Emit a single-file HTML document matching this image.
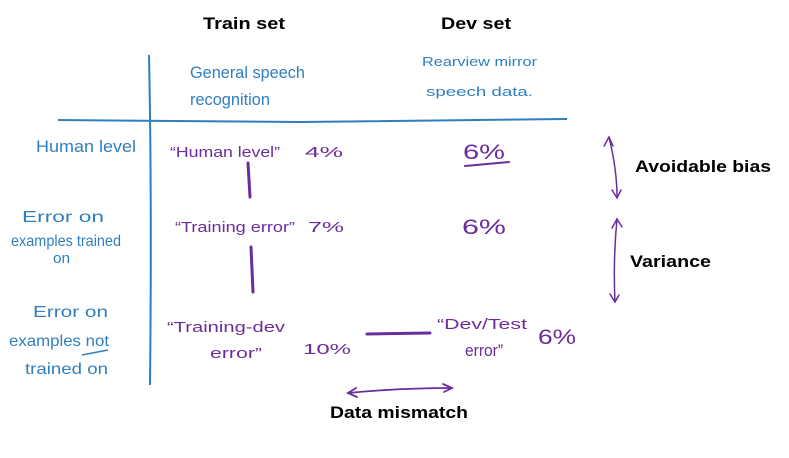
<!DOCTYPE html>
<html><head><meta charset="utf-8"><style>
html,body{margin:0;padding:0;background:#fff;}
svg{display:block;}
.b{font-family:"Liberation Sans",sans-serif;font-weight:bold;font-size:17px;fill:#000;}
.h{font-family:"Liberation Sans",sans-serif;font-size:15px;}
.bl{fill:#2f7fc0;}
.pu{fill:#6b2c9c;}
</style></head><body>
<svg width="789" height="458" viewBox="0 0 789 458" xmlns="http://www.w3.org/2000/svg">
<text class="b" x="203" y="29" textLength="82" lengthAdjust="spacingAndGlyphs">Train set</text>
<text class="b" x="441" y="29" textLength="70" lengthAdjust="spacingAndGlyphs">Dev set</text>
<text class="b" x="635" y="172" textLength="136" lengthAdjust="spacingAndGlyphs">Avoidable bias</text>
<text class="b" x="630" y="267" textLength="81" lengthAdjust="spacingAndGlyphs">Variance</text>
<text class="b" x="330" y="418" textLength="138" lengthAdjust="spacingAndGlyphs">Data mismatch</text>

<path d="M149 55 Q152 200 150 385" stroke="#2f7fc0" stroke-width="2" fill="none"/>
<path d="M58 120 L300 122 L567 119" stroke="#2f7fc0" stroke-width="2" fill="none"/>

<g class="h bl">
<text x="190" y="78" textLength="115" lengthAdjust="spacingAndGlyphs" font-size="17">General speech</text>
<text x="190" y="105" textLength="80" lengthAdjust="spacingAndGlyphs" font-size="17">recognition</text>
<text x="422" y="66" textLength="115" lengthAdjust="spacingAndGlyphs" font-size="13">Rearview mirror</text>
<text x="426" y="96" textLength="107" lengthAdjust="spacingAndGlyphs" font-size="13">speech data.</text>
<text x="36" y="152" textLength="100" lengthAdjust="spacingAndGlyphs" font-size="17">Human level</text>
<text x="22" y="222" textLength="82" lengthAdjust="spacingAndGlyphs" font-size="16">Error on</text>
<text x="11" y="246" textLength="110" lengthAdjust="spacingAndGlyphs" font-size="16">examples trained</text>
<text x="53" y="263" textLength="17" lengthAdjust="spacingAndGlyphs">on</text>
<text x="33" y="317" textLength="75" lengthAdjust="spacingAndGlyphs" font-size="16">Error on</text>
<text x="9" y="346" textLength="100" lengthAdjust="spacingAndGlyphs" font-size="16">examples not</text>
<text x="25" y="374" textLength="83" lengthAdjust="spacingAndGlyphs" font-size="16">trained on</text>
</g>
<path d="M82 355 L108 350" stroke="#2f7fc0" stroke-width="1.5"/>

<g class="h pu" font-size="19">
<text x="170" y="157" textLength="110" lengthAdjust="spacingAndGlyphs">“Human level”</text>
<text x="305" y="157" textLength="38" lengthAdjust="spacingAndGlyphs">4%</text>
<text x="175" y="232" textLength="120" lengthAdjust="spacingAndGlyphs">“Training error”</text>
<text x="308" y="232" textLength="36" lengthAdjust="spacingAndGlyphs">7%</text>
<text x="167" y="332" textLength="118" lengthAdjust="spacingAndGlyphs">“Training-dev</text>
<text x="210" y="358" textLength="52" lengthAdjust="spacingAndGlyphs">error”</text>
<text x="303" y="354" textLength="48" lengthAdjust="spacingAndGlyphs">10%</text>
<text x="463" y="159" textLength="42" lengthAdjust="spacingAndGlyphs" font-size="21">6%</text>
<text x="462" y="234" textLength="44" lengthAdjust="spacingAndGlyphs" font-size="21">6%</text>
<text x="437" y="329" textLength="90" lengthAdjust="spacingAndGlyphs">“Dev/Test</text>
<text x="465" y="356" textLength="38" lengthAdjust="spacingAndGlyphs" font-size="17">error”</text>
<text x="538" y="344" textLength="38" lengthAdjust="spacingAndGlyphs" font-size="21">6%</text>
</g>
<g stroke="#6b2c9c" fill="none" stroke-linecap="round">
<path d="M465 166 L509 162" stroke-width="2"/>
<path d="M248 163 L250 197" stroke-width="3"/>
<path d="M251 247 L253 292" stroke-width="3"/>
<path d="M367 334 L430 333" stroke-width="3"/>
<path d="M609 137 Q617 170 617 197" stroke-width="1.5"/>
<path d="M604 146 L609 137 L613 146 M612 190 L617 198 L621 190" stroke-width="1.5"/>
<path d="M617 219 Q613 260 615 302" stroke-width="1.5"/>
<path d="M612 228 L617 219 L622 227 M610 294 L615 302 L619 295" stroke-width="1.5"/>
<path d="M348 393 Q400 388 452 388" stroke-width="1.8"/>
<path d="M356 388 L348 393 L357 397 M443 384 L452 388 L444 392" stroke-width="1.8"/>
</g>
</svg>
</body></html>
